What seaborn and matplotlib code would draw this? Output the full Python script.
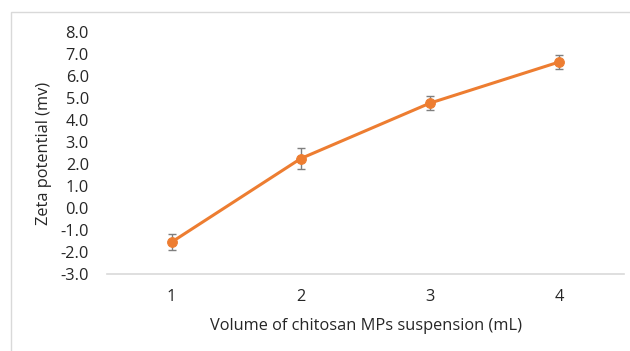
import numpy as np
import matplotlib
matplotlib.use("Agg")
import matplotlib.pyplot as plt
import seaborn as sns
from matplotlib.patches import Rectangle
from matplotlib.ticker import FormatStrFormatter, FixedLocator

volume = [1, 2, 3, 4]
zeta = [-1.55, 2.25, 4.77, 6.64]
zeta_err = [0.38, 0.48, 0.33, 0.30]
y_ticks = np.arange(-3.0, 8.01, 1.0)

sns.set_theme(style="white")
plt.rcParams['font.family'] = ['Open Sans', 'DejaVu Sans']
plt.rcParams['axes.unicode_minus'] = False

fig = plt.figure(figsize=(6.3, 3.51), dpi=100)
ax = fig.add_axes([107/630, 1 - 274/351, (624 - 107)/630, (274 - 32)/351])

# chart area border (cropped at right and bottom)
fig.patches.append(Rectangle((11/630, -0.2), 1.2, 1 - 12/351 + 0.2,
                             transform=fig.transFigure, fill=False,
                             edgecolor='#d9d9d9', linewidth=1.0))

orange = '#ED7D31'
ax.errorbar(volume, zeta, yerr=zeta_err, fmt='none', ecolor='#7f7f7f',
            elinewidth=1.0, capsize=3, capthick=1.0, zorder=2)
sns.lineplot(x=volume, y=zeta, ax=ax, color=orange, linewidth=2.2,
             marker='o', markersize=7, markeredgecolor=orange, zorder=3)

ax.set_xlim(0.5, 4.5)
ax.set_ylim(-3.0, 8.0)
ax.set_xticks(volume)
ax.xaxis.set_minor_locator(FixedLocator([0.5, 1.5, 2.5, 3.5, 4.5]))
ax.set_yticks(y_ticks)
ax.yaxis.set_major_formatter(FormatStrFormatter('%.1f'))

for s in ['top', 'right', 'left']:
    ax.spines[s].set_visible(False)
ax.spines['bottom'].set_color('#d9d9d9')
ax.spines['bottom'].set_linewidth(1.2)

fs = 11.8
ax.tick_params(axis='x', which='major', length=0, pad=11, labelsize=fs, labelcolor='#262626')
ax.tick_params(axis='x', which='minor', length=5, width=1.2, color='#d9d9d9', direction='out')
ax.tick_params(axis='y', length=0, pad=13, labelsize=fs, labelcolor='#262626')

ax.set_xlabel('Volume of chitosan MPs suspension (mL)', fontsize=fs, color='#262626', labelpad=9)
ax.set_ylabel('Zeta potential (mv)', fontsize=fs, color='#262626', labelpad=6)
ax.grid(False)

fig.savefig('out.png', dpi=100)
